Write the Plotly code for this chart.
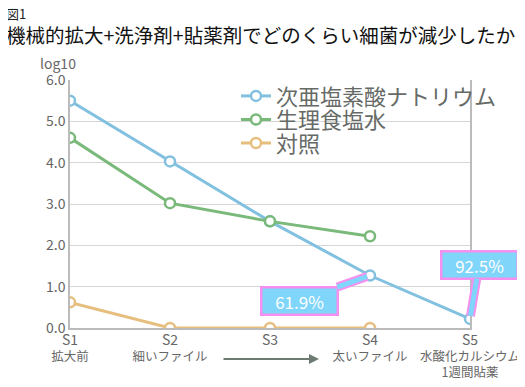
import plotly.graph_objects as go

stages = ["S1", "S2", "S3", "S4", "S5"]
stage_names = ["拡大前", "細いファイル", "", "太いファイル", "水酸化カルシウム<br>1週間貼薬"]
series_names = ["次亜塩素酸ナトリウム", "生理食塩水", "対照"]
naocl = [5.5, 4.03, 2.58, 1.27, 0.22]
saline = [4.6, 3.02, 2.58, 2.22, None]
control = [0.62, 0.0, 0.0, 0.0, None]
colors = ["#82c0e0", "#79b97a", "#e6bf7f"]
callouts = [("S4", 1.27, "61.9%"), ("S5", 0.22, "92.5%")]
yticks = [0, 1, 2, 3, 4, 5, 6]

FONT = "Noto Sans CJK JP"
legend_rows = [0.935, 0.84, 0.745]
fig = go.Figure()
for i, (name, vals, c) in enumerate(zip(series_names, [naocl, saline, control], colors)):
    fig.add_trace(go.Scatter(
        x=stages, y=vals, name=name, mode="lines+markers",
        line=dict(color=c, width=3),
        marker=dict(symbol="circle", size=10, color="white", line=dict(color=c, width=2.5)),
        legend="legend" if i == 0 else f"legend{i+1}",
    ))

ticktext = [(f'<span style="font-size:14px">{s}</span><br>{n}' if n
             else f'<span style="font-size:14px">{s}</span>') for s, n in zip(stages, stage_names)]

legend_common = dict(x=0.415, xanchor="left", yanchor="middle", bgcolor="rgba(0,0,0,0)",
                     font=dict(size=22, color="#666a66"), itemwidth=30)
fig.update_layout(
    width=525, height=387,
    margin=dict(l=62, r=63, t=72, b=67),
    paper_bgcolor="white", plot_bgcolor="white",
    font=dict(family=FONT, color="#666666"),
    showlegend=True,
    legend=dict(y=legend_rows[0], **legend_common),
    legend2=dict(y=legend_rows[1], **legend_common),
    legend3=dict(y=legend_rows[2], **legend_common),
    xaxis=dict(type="category", range=[0, 4], tickmode="array", tickvals=stages,
               ticktext=ticktext, showgrid=False, showline=True, linecolor="#bbbbbb",
               linewidth=1.5, ticks="", tickangle=0, automargin=False,
               tickfont=dict(size=12.5, color="#666666")),
    yaxis=dict(range=[0, 6], tickvals=yticks, ticktext=[f"{v:.1f}" for v in yticks],
               showgrid=True, gridcolor="#d6d6d6", gridwidth=1, showline=True,
               linecolor="#bbbbbb", linewidth=1.5, mirror=True, ticks="", automargin=False,
               zeroline=False, tickfont=dict(size=14, color="#666666")),
)

annotations = [
    dict(text="図1", xref="paper", yref="paper", x=-0.165, y=1.27, xanchor="left",
         yanchor="middle", showarrow=False, font=dict(size=13, color="#222222")),
    dict(text="機械的拡大+洗浄剤+貼薬剤でどのくらい細菌が減少したか", xref="paper", yref="paper",
         x=-0.165, y=1.185, xanchor="left", yanchor="middle", showarrow=False,
         font=dict(size=19.5, color="#111111")),
    dict(text="log10", xref="paper", yref="paper", x=-0.08, y=1.07, xanchor="left",
         yanchor="middle", showarrow=False, font=dict(size=14, color="#666666")),
    dict(text="", xref="x", yref="paper", x=2.49, y=-0.125, ax=1.52, ay=0,
         axref="x", ayref="pixel", showarrow=True, arrowhead=2, arrowsize=1,
         arrowwidth=2, arrowcolor="#6e7b73"),
]
offsets = {"S4": (-71, 25), "S5": (9, -54)}
for xs, yv, label in callouts:
    ax, ay = offsets[xs]
    for acolor, aw in (("#f590ee", 9), ("#7fd5fa", 5)):
        annotations.append(dict(
            text=label, x=xs, y=yv, xref="x", yref="y", ax=ax, ay=ay,
            showarrow=True, arrowhead=0, arrowwidth=aw, arrowcolor=acolor, standoff=3,
            bgcolor="#7fd5fa", bordercolor="#f590ee", borderwidth=2.5, borderpad=2,
            width=70, height=21, font=dict(size=17, color="white")))
fig.update_layout(annotations=annotations)

fig.write_html("out.html")
